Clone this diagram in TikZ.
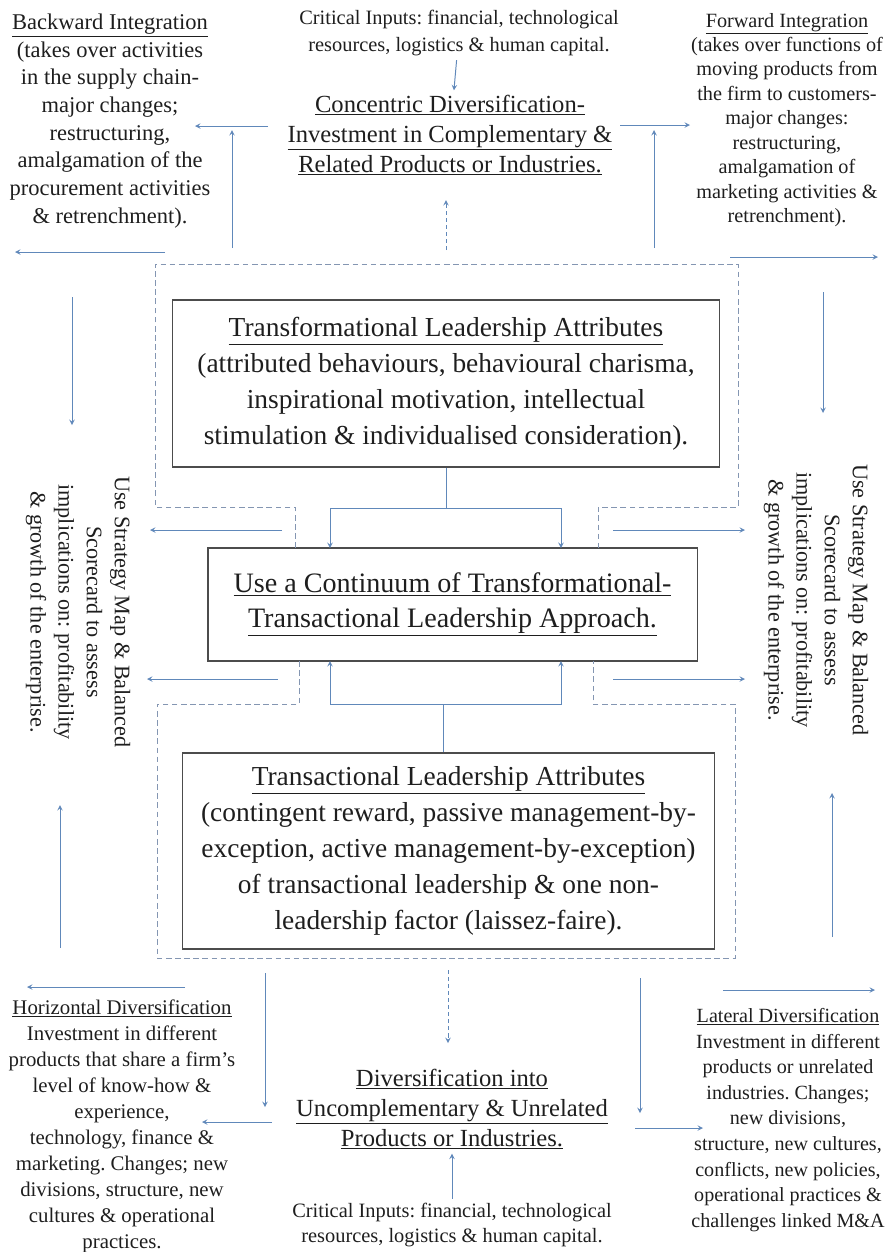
\documentclass[tikz,border=0pt]{standalone}
\usepackage{fontspec}
\setmainfont{Liberation Serif}
\frenchspacing
\definecolor{arr}{RGB}{96,136,186}
\definecolor{dsh}{RGB}{132,150,178}
\definecolor{ink}{RGB}{30,30,30}
\tikzset{
	box/.style={draw=black!70, line width=0.8pt, align=center, inner sep=0pt, text=ink, font=\fontsize{19.5}{25.5}\selectfont},
	txt/.style={align=center, inner sep=0pt, text=ink},
	con/.style={->, draw=arr, line width=0.7pt},
	dcon/.style={->, draw=arr, line width=0.7pt, dash pattern=on 3pt off 2pt},
	frame/.style={draw=dsh, line width=0.7pt, dash pattern=on 4pt off 2.5pt}
}
\begin{document}
\begin{tikzpicture}[>=stealth, x=0.025cm, y=-0.025cm]
	\useasboundingbox (0,0) rectangle (890,1252);
	\node[box, minimum width=13.675cm, minimum height=4.175cm] (transf) at (446,383.5) {\underline{Transformational Leadership Attributes}\\(attributed behaviours, behavioural charisma,\\inspirational motivation, intellectual\\stimulation \& individualised consideration).};
	\node[box, minimum width=12.225cm, minimum height=2.825cm, font=\fontsize{20}{24.5}\selectfont] (middle) at (452.5,604.5) {\underline{Use a Continuum of Transformational-}\\\underline{Transactional Leadership Approach.}};
	\node[box, minimum width=13.275cm, minimum height=4.9cm] (transact) at (448.5,851) {\underline{Transactional Leadership Attributes}\\(contingent reward, passive management-by-\\exception, active management-by-exception)\\of transactional leadership \& one non-\\leadership factor (laissez-faire).};
	\node[txt, font=\fontsize{16}{19.7}\selectfont] (backward) at (110,121) {\underline{Backward Integration}\\(takes over activities\\in the supply chain-\\major changes;\\restructuring,\\amalgamation of the\\procurement activities\\\& retrenchment).};
	\node[txt, font=\fontsize{14.4}{17.4}\selectfont] (forward) at (787,120) {\underline{Forward Integration}\\(takes over functions of\\moving products from\\the firm to customers-\\major changes:\\restructuring,\\amalgamation of\\marketing activities \&\\retrenchment).};
	\node[txt, font=\fontsize{14.5}{19}\selectfont] (critTop) at (459,33) {Critical Inputs: financial, technological\\resources, logistics \& human capital.};
	\node[txt, font=\fontsize{17.5}{21.3}\selectfont] (concentric) at (450,135) {\underline{Concentric Diversification-}\\\underline{Investment in Complementary \&}\\\underline{Related Products or Industries.}};
	\node[txt, rotate=-90, font=\fontsize{15.8}{20}\selectfont] (useLeft) at (78,612) {Use Strategy Map \& Balanced\\Scorecard to assess\\implications on: profitability\\\& growth of the enterprise.};
	\node[txt, rotate=-90, font=\fontsize{15.8}{20}\selectfont] (useRight) at (816,600) {Use Strategy Map \& Balanced\\Scorecard to assess\\implications on: profitability\\\& growth of the enterprise.};
	\node[txt, font=\fontsize{14.8}{18.5}\selectfont] (horiz) at (122,1126) {\underline{Horizontal Diversification}\\Investment in different\\products that share a firm's\\level of know-how \&\\experience,\\technology, finance \&\\marketing. Changes; new\\divisions, structure, new\\cultures \& operational\\practices.};
	\node[txt, font=\fontsize{17.5}{21.3}\selectfont] (unrelated) at (452,1109) {\underline{Diversification into}\\\underline{Uncomplementary \& Unrelated}\\\underline{Products or Industries.}};
	\node[txt, font=\fontsize{14.5}{17.5}\selectfont] (critBot) at (452,1225) {Critical Inputs: financial, technological\\resources, logistics \& human capital.};
	\node[txt, font=\fontsize{14.3}{18.2}\selectfont] (lateral) at (788,1120) {\underline{Lateral Diversification}\\Investment in different\\products or unrelated\\industries. Changes;\\new divisions,\\structure, new cultures,\\conflicts, new policies,\\operational practices \&\\challenges linked M\&A};
	\foreach \n/\x/\y in {bA/268/126, bB/195/126, bC/232/248, bD/232/130, bE/165/252, bF/15/252,
		fA/620/125, fB/690/125, fC/654/248, fD/654/130, fE/730/257, fF/878/257,
		cA/446/250, cB/446/200, lA/72/297, lB/72/425, rA/823/292, rB/823/413,
		lC/282/530, lD/150/530, lE/278/679, lF/147/679, rC/613/530, rD/745/530, rE/613/679, rF/745/679,
		lG/60/948, lH/60/805, rG/832/937, rH/832/793,
		hA/185/987, hB/27/987, hC/265/973, hD/265/1107, hE/272/1122, hF/202/1122,
		uA/448/970, uB/448/1043, tA/640/978, tB/640/1113, tC/635/1128, tD/703/1128, tE/723/990, tF/875/990,
		jT/446/508, jB/443/704, mTL/330/548, mTR/561/548, mBL/330/661, mBR/561/661}
		\coordinate (\n) at (\x,\y);
	\foreach \a/\b in {bA/bB, bC/bD, bE/bF, fA/fB, fC/fD, fE/fF, lA/lB, rA/rB, lC/lD, lE/lF, rC/rD, rE/rF,
		lG/lH, rG/rH, hA/hB, hC/hD, hE/hF, tA/tB, tC/tD, tE/tF}
		\draw[con] (\a) -- (\b);
	\draw[dcon] (cA) -- (cB);
	\draw[dcon] (uA) -- (uB);
	\draw[con, shorten <=3pt, shorten >=3pt] (critTop) -- (concentric);
	\draw[con, shorten <=3pt, shorten >=3pt] (critBot) -- (unrelated);
	\draw[draw=arr, line width=0.7pt] (transf.south) -- (jT);
	\draw[con] (jT) -| (mTL);
	\draw[con] (jT) -| (mTR);
	\draw[draw=arr, line width=0.7pt] (transact.north -| jB) -- (jB);
	\draw[con] (jB) -| (mBL);
	\draw[con] (jB) -| (mBR);
	\draw[frame] (295,548) -- (295,507) -- (155,507) -- (155,264) -- (738,264) -- (738,507) -- (598,507) -- (598,548);
	\draw[frame] (299,661) -- (299,704) -- (157,704) -- (157,958) -- (735,958) -- (735,704) -- (593,704) -- (593,661);
\end{tikzpicture}
\end{document}
